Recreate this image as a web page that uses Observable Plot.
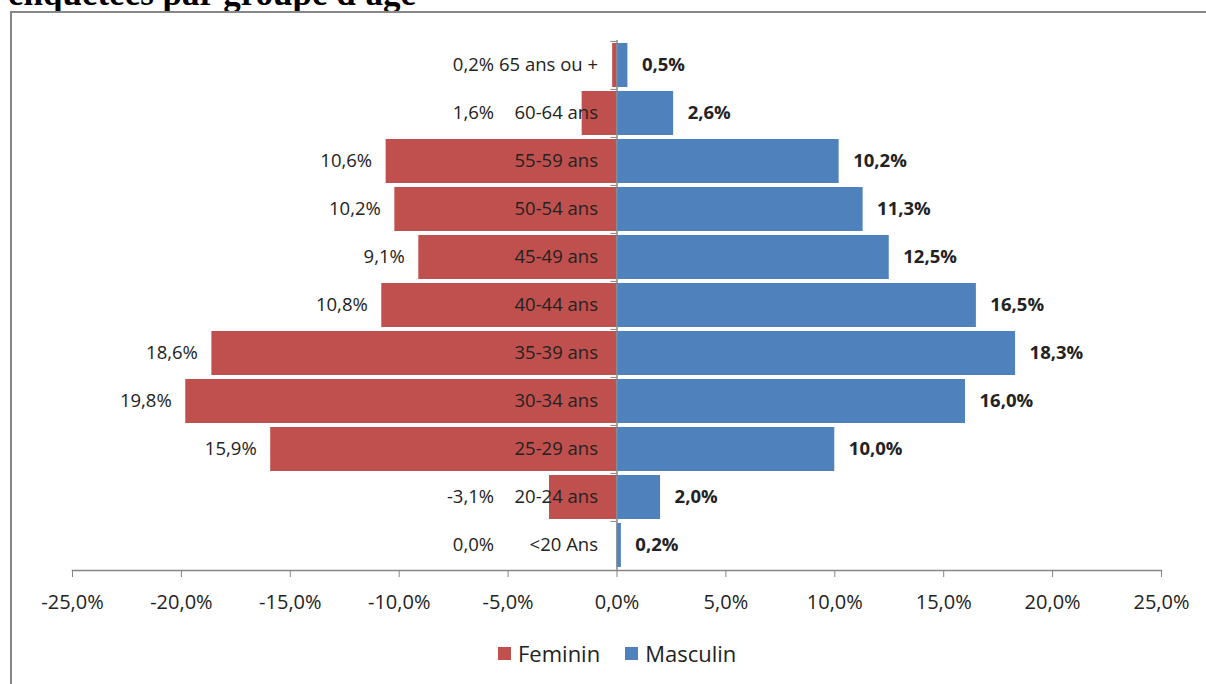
<!DOCTYPE html>
<html>
<head>
<meta charset="utf-8">
<script src="https://cdn.jsdelivr.net/npm/d3@7"></script>
<script src="https://cdn.jsdelivr.net/npm/@observablehq/plot@0.6"></script>
<style>
  html, body { margin: 0; padding: 0; background: #fff; overflow: hidden; }
  body { width: 1206px; height: 684px; position: relative; font-family: "Open Sans", sans-serif; }
  #title {
    position: absolute; left: 8px; top: -24px; margin: 0;
    font-family: "Liberation Serif", "Times New Roman", serif; font-weight: bold;
    font-size: 35px; line-height: 35px; color: #000; white-space: nowrap; z-index: 0;
  }
  #frame {
    position: absolute; left: 10px; top: 11px; width: 1220px; height: 700px;
    border-top: 2px solid #878787; border-left: 2px solid #878787; background: #fff; z-index: 1;
  }
  #chart { position: absolute; left: 0; top: 0; z-index: 2; }
  #legend {
    position: absolute; left: 498px; top: 638px; z-index: 3;
    display: flex; align-items: center; font-size: 22px; color: #222;
  }
  #legend .item { display: flex; align-items: center; margin-right: 25px; }
  #legend .sw { width: 13px; height: 13px; margin-right: 7px; }
</style>
</head>
<body>
<div id="title">enquêtées par groupe d'âge</div>
<div id="frame"></div>
<div id="chart"></div>
<div id="legend"></div>
<script>
// Age groups, top to bottom
const ageGroups = ["65 ans ou +", "60-64 ans", "55-59 ans", "50-54 ans", "45-49 ans",
  "40-44 ans", "35-39 ans", "30-34 ans", "25-29 ans", "20-24 ans", "<20 Ans"];
// Share of respondents (%) per age group
const feminin = [0.2, 1.6, 10.6, 10.2, 9.1, 10.8, 18.6, 19.8, 15.9, -3.1, 0.0];
const masculin = [0.5, 2.6, 10.2, 11.3, 12.5, 16.5, 18.3, 16.0, 10.0, 2.0, 0.2];
const seriesNames = ["Feminin", "Masculin"];
const seriesColors = ["#C0504D", "#4F81BD"];
const xTicks = [-25, -20, -15, -10, -5, 0, 5, 10, 15, 20, 25];

const rows = ageGroups.map((g, i) => ({group: g, f: feminin[i], m: masculin[i]}));
const fmt = v => v.toFixed(1).replace(".", ",") + "%";

const W = 1206, H = 640, mTop = 40, mBottom = 70;
const step = (H - mTop - mBottom) / ageGroups.length;
const axisGray = "#868686";
const ink = "#222";

const chart = Plot.plot({
  width: W, height: H,
  marginLeft: 72, marginRight: 45, marginTop: mTop, marginBottom: mBottom,
  style: {fontFamily: "Open Sans", background: "transparent", color: ink},
  x: {domain: [-25, 25]},
  y: {domain: ageGroups, paddingInner: 0.085, paddingOuter: 0.0425, axis: null},
  marks: [
    Plot.barX(rows, {y: "group", x1: 0, x2: d => -Math.abs(d.f), fill: seriesColors[0]}),
    Plot.barX(rows, {y: "group", x1: 0, x2: "m", fill: seriesColors[1]}),
    Plot.ruleX([0], {stroke: axisGray, strokeWidth: 1.5}),
    Plot.ruleY(ageGroups, {y: d => d, x1: -0.28, x2: 0, dy: -step / 2, stroke: axisGray}),
    Plot.frame({anchor: "bottom", stroke: axisGray, strokeWidth: 1.5}),
    Plot.axisX({ticks: xTicks, tickFormat: fmt, tickSize: 7, tickPadding: 17,
      stroke: axisGray, fill: ink, fontSize: 20, label: null}),
    Plot.text(rows, {y: "group", x: 0, text: "group", textAnchor: "end", dx: -19,
      fontSize: 18.5, fill: ink}),
    Plot.text(rows, {y: "group", x: d => -Math.max(Math.abs(d.f), 5), text: d => fmt(d.f),
      textAnchor: "end", dx: -14, fontSize: 18.5, fill: ink}),
    Plot.text(rows, {y: "group", x: "m", text: d => fmt(d.m), textAnchor: "start", dx: 14,
      fontSize: 18.5, fontWeight: "bold", fill: ink})
  ]
});
document.getElementById("chart").appendChild(chart);

const legend = document.getElementById("legend");
seriesNames.forEach((name, i) => {
  const item = document.createElement("div");
  item.className = "item";
  const sw = document.createElement("span");
  sw.className = "sw";
  sw.style.background = seriesColors[i];
  item.appendChild(sw);
  item.appendChild(document.createTextNode(name));
  legend.appendChild(item);
});
</script>
</body>
</html>
